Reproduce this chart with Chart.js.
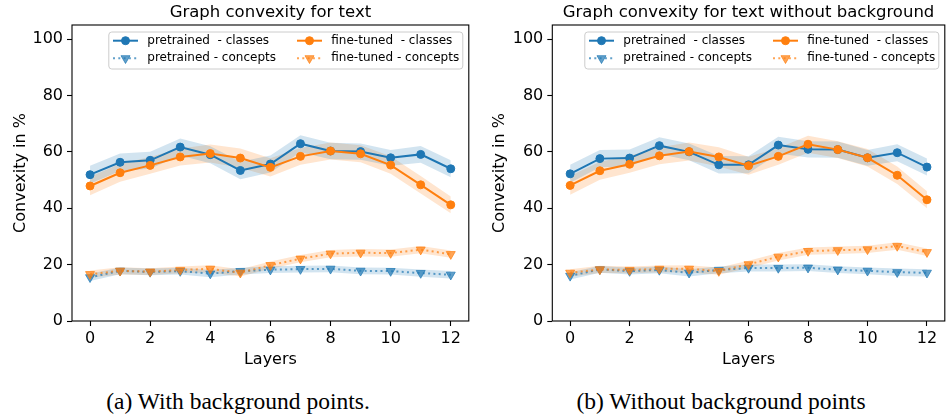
<!DOCTYPE html>
<html>
<head>
<meta charset="utf-8">
<script src="https://cdn.jsdelivr.net/npm/chart.js@4.4.1/dist/chart.umd.min.js"></script>
<style>
  html, body { margin: 0; padding: 0; background: #fff; width: 950px; height: 417px; overflow: hidden; position: relative; }
  .panel { position: absolute; top: 0; height: 370px; }
  .caption { position: absolute; top: 389px; font-family: "Liberation Serif", "Times New Roman", serif; font-size: 23.5px; line-height: 24px; color: #000; white-space: nowrap; transform: translateX(-50%); }
</style>
</head>
<body>
<div class="panel" style="left:0; width:475px;"><canvas id="panelA"></canvas></div>
<div class="panel" style="left:479px; width:472px;"><canvas id="panelB"></canvas></div>
<div class="caption" style="left:238px;">(a) With background points.</div>
<div class="caption" style="left:721px;">(b) Without background points</div>
<script>
// ---- data ----
const layers = [0, 1, 2, 3, 4, 5, 6, 7, 8, 9, 10, 11, 12];
const xTickValues = [0, 2, 4, 6, 8, 10, 12];
const yTickValues = [0, 20, 40, 60, 80, 100];
const seriesLabels = ['pretrained  - classes', 'pretrained - concepts', 'fine-tuned  - classes', 'fine-tuned - concepts'];
const panelTitles = ['Graph convexity for text', 'Graph convexity for text without background'];
const xAxisLabel = 'Layers';
const yAxisLabel = 'Convexity in %';

// (a) with background points
const bgPretrainedClasses     = [51.9, 56.3, 57.0, 61.7, 59.0, 53.4, 55.7, 62.9, 60.3, 60.1, 57.9, 59.1, 54.0];
const bgPretrainedClassesStd  = [3.2, 3.1, 3.0, 3.0, 3.0, 3.1, 3.0, 3.0, 2.9, 2.9, 2.8, 3.0, 3.0];
const bgPretrainedConcepts    = [15.5, 17.8, 17.4, 17.7, 16.8, 17.7, 18.2, 18.4, 18.5, 17.8, 17.7, 17.0, 16.4];
const bgPretrainedConceptsStd = [1.3, 1.2, 1.2, 1.2, 1.3, 1.2, 1.2, 1.2, 1.2, 1.2, 1.2, 1.3, 1.3];
const bgFinetunedClasses      = [47.9, 52.6, 55.2, 58.2, 59.4, 57.8, 54.5, 58.4, 60.3, 59.3, 55.3, 48.3, 41.2];
const bgFinetunedClassesStd   = [3.3, 3.2, 3.0, 3.0, 3.2, 3.4, 3.2, 3.0, 3.0, 3.0, 3.1, 3.1, 3.0];
const bgFinetunedConcepts     = [16.6, 17.8, 17.5, 18.1, 18.5, 17.1, 19.8, 22.1, 23.9, 24.2, 24.1, 25.3, 23.7];
const bgFinetunedConceptsStd  = [1.3, 1.3, 1.2, 1.2, 1.3, 1.3, 1.3, 1.3, 1.3, 1.3, 1.3, 1.3, 1.3];

// (b) without background points
const nobgPretrainedClasses     = [52.2, 57.6, 57.8, 62.2, 60.0, 55.4, 55.4, 62.4, 60.9, 60.8, 57.9, 59.7, 54.6];
const nobgPretrainedClassesStd  = [3.2, 3.1, 3.0, 3.0, 3.0, 3.1, 3.0, 3.0, 2.9, 2.9, 2.8, 3.0, 3.0];
const nobgPretrainedConcepts    = [16.0, 18.3, 17.7, 18.1, 17.1, 18.1, 18.8, 18.8, 18.9, 18.2, 17.8, 17.3, 17.1];
const nobgPretrainedConceptsStd = [1.3, 1.2, 1.2, 1.2, 1.3, 1.2, 1.2, 1.2, 1.2, 1.2, 1.2, 1.3, 1.3];
const nobgFinetunedClasses      = [48.1, 53.3, 55.6, 58.6, 60.1, 58.2, 55.1, 58.4, 62.7, 60.8, 57.9, 51.7, 43.0];
const nobgFinetunedClassesStd   = [3.3, 3.2, 3.0, 3.0, 3.2, 3.4, 3.2, 3.0, 3.0, 3.0, 3.1, 3.1, 3.0];
const nobgFinetunedConcepts     = [17.1, 18.3, 18.1, 18.5, 18.5, 17.7, 20.1, 22.8, 24.8, 25.1, 25.4, 26.6, 24.4];
const nobgFinetunedConceptsStd  = [1.3, 1.3, 1.2, 1.2, 1.3, 1.3, 1.3, 1.3, 1.3, 1.3, 1.3, 1.3, 1.3];

// ---- styling ----
const BLUE = '#1f77b4';
const ORANGE = '#ff7f0e';
const FONT = "'DejaVu Sans', 'Liberation Sans', sans-serif";
const seriesStyles = [
  { color: BLUE,   alpha: 1.0, dash: [],       point: 'circle',   radius: 4,   rotation: 0 },
  { color: BLUE,   alpha: 0.7, dash: [2, 3.3], point: 'triangle', radius: 5.2, rotation: 180 },
  { color: ORANGE, alpha: 1.0, dash: [],       point: 'circle',   radius: 4,   rotation: 0 },
  { color: ORANGE, alpha: 0.7, dash: [2, 3.3], point: 'triangle', radius: 5.2, rotation: 180 }
];

function rgba(hex, a) {
  const n = parseInt(hex.slice(1), 16);
  return `rgba(${(n >> 16) & 255}, ${(n >> 8) & 255}, ${n & 255}, ${a})`;
}

function buildDatasets(valueSets, stdSets) {
  const datasets = [];
  // shaded bands (upper fills down to the following lower bound)
  valueSets.forEach((vals, i) => {
    const st = seriesStyles[i];
    const sd = stdSets[i];
    datasets.push({
      data: layers.map((x, k) => ({ x, y: vals[k] + sd[k] })),
      fill: '+1', backgroundColor: rgba(st.color, 0.2),
      borderWidth: 0, borderColor: 'rgba(0,0,0,0)', pointRadius: 0, order: 20
    });
    datasets.push({
      data: layers.map((x, k) => ({ x, y: vals[k] - sd[k] })),
      fill: false, borderWidth: 0, borderColor: 'rgba(0,0,0,0)', pointRadius: 0, order: 20
    });
  });
  // mean lines with markers
  valueSets.forEach((vals, i) => {
    const st = seriesStyles[i];
    const c = rgba(st.color, st.alpha);
    datasets.push({
      label: seriesLabels[i],
      data: layers.map((x, k) => ({ x, y: vals[k] })),
      fill: false, borderColor: c, borderWidth: 2, borderDash: st.dash, tension: 0,
      pointStyle: st.point, pointRadius: st.radius, pointRotation: st.rotation,
      pointBackgroundColor: c, pointBorderColor: c, pointBorderWidth: 1,
      order: 10 - i
    });
  });
  return datasets;
}

// full box around the plotting area
const framePlugin = {
  id: 'frame',
  afterDatasetsDraw(chart) {
    const { ctx, chartArea: a } = chart;
    ctx.save();
    ctx.strokeStyle = '#000';
    ctx.lineWidth = 1.1;
    ctx.strokeRect(a.left, a.top, a.right - a.left, a.bottom - a.top);
    ctx.restore();
  }
};

// two-column legend in the upper right corner
const cornerLegend = {
  id: 'cornerLegend',
  afterDraw(chart) {
    const { ctx, chartArea: a } = chart;
    const bx = a.right - 360, by = a.top + 7, bw = 354, bh = 37;
    ctx.save();
    ctx.beginPath();
    ctx.roundRect(bx, by, bw, bh, 3);
    ctx.fillStyle = 'rgba(255,255,255,0.8)';
    ctx.fill();
    ctx.strokeStyle = '#cccccc';
    ctx.lineWidth = 1;
    ctx.stroke();
    const rowY = [a.top + 15.7, a.top + 33.3];
    const colX = [bx + 4.2, bx + 188.2];
    seriesLabels.forEach((label, i) => {
      const st = seriesStyles[i];
      const col = Math.floor(i / 2), row = i % 2;
      const x0 = colX[col], x1 = x0 + 25, y = rowY[row];
      const cx = (x0 + x1) / 2;
      const c = rgba(st.color, st.alpha);
      // handle line
      ctx.strokeStyle = c;
      ctx.lineWidth = 2;
      ctx.setLineDash(st.dash);
      ctx.beginPath();
      ctx.moveTo(x0, y);
      ctx.lineTo(x1, y);
      ctx.stroke();
      ctx.setLineDash([]);
      // handle marker
      ctx.fillStyle = c;
      ctx.lineWidth = 1;
      ctx.beginPath();
      if (st.point === 'circle') {
        ctx.arc(cx, y, st.radius, 0, Math.PI * 2);
      } else {
        const r = st.radius;
        let ang = st.rotation * Math.PI / 180;
        ctx.moveTo(cx + Math.sin(ang) * r, y - Math.cos(ang) * r);
        ang += 2 * Math.PI / 3;
        ctx.lineTo(cx + Math.sin(ang) * r, y - Math.cos(ang) * r);
        ang += 2 * Math.PI / 3;
        ctx.lineTo(cx + Math.sin(ang) * r, y - Math.cos(ang) * r);
        ctx.closePath();
      }
      ctx.fill();
      ctx.stroke();
      // label
      ctx.fillStyle = '#000';
      ctx.font = `12px ${FONT}`;
      ctx.textBaseline = 'middle';
      ctx.textAlign = 'left';
      ctx.fillText(label, x0 + 34.3, y);
    });
    ctx.restore();
  }
};

function makePanel(canvasId, title, valueSets, stdSets, yWidth, padRight) {
  const tickFont = { family: FONT, size: 16 };
  return new Chart(document.getElementById(canvasId), {
    type: 'line',
    data: { datasets: buildDatasets(valueSets, stdSets) },
    plugins: [framePlugin, cornerLegend],
    options: {
      responsive: true,
      maintainAspectRatio: false,
      animation: false,
      events: [],
      layout: { padding: { left: 0, right: padRight, top: 0, bottom: 0 } },
      plugins: {
        legend: { display: false },
        tooltip: { enabled: false },
        filler: { drawTime: 'beforeDatasetsDraw' },
        title: {
          display: true, text: title, fullSize: false, color: '#000',
          font: { family: FONT, size: 16.5, weight: 'normal' },
          padding: { top: 3, bottom: 2.2 }
        }
      },
      scales: {
        x: {
          type: 'linear', min: -0.6, max: 12.6,
          afterBuildTicks: s => { s.ticks = xTickValues.map(v => ({ value: v })); },
          afterFit: s => { s.height = 49; },
          grid: { display: true, drawOnChartArea: false, drawTicks: true, tickLength: 5, tickColor: '#000', tickWidth: 1.1 },
          border: { display: false },
          ticks: { color: '#000', font: tickFont, padding: 3, maxRotation: 0, autoSkip: false },
          title: { display: true, text: xAxisLabel, color: '#000', font: tickFont, padding: { top: 0, bottom: 1 } }
        },
        y: {
          type: 'linear', min: 0, max: 105,
          afterBuildTicks: s => { s.ticks = yTickValues.map(v => ({ value: v })); },
          afterFit: s => { s.width = yWidth; },
          grid: { display: true, drawOnChartArea: false, drawTicks: true, tickLength: 5, tickColor: '#000', tickWidth: 1.1 },
          border: { display: false },
          ticks: { color: '#000', font: tickFont, padding: 4 },
          title: { display: true, text: yAxisLabel, color: '#000', font: tickFont, padding: { top: 11, bottom: 0 } }
        }
      }
    }
  });
}

makePanel('panelA', panelTitles[0],
  [bgPretrainedClasses, bgPretrainedConcepts, bgFinetunedClasses, bgFinetunedConcepts],
  [bgPretrainedClassesStd, bgPretrainedConceptsStd, bgFinetunedClassesStd, bgFinetunedConceptsStd],
  72, 6);
makePanel('panelB', panelTitles[1],
  [nobgPretrainedClasses, nobgPretrainedConcepts, nobgFinetunedClasses, nobgFinetunedConcepts],
  [nobgPretrainedClassesStd, nobgPretrainedConceptsStd, nobgFinetunedClassesStd, nobgFinetunedConceptsStd],
  73.3, 0.5);
</script>
</body>
</html>
